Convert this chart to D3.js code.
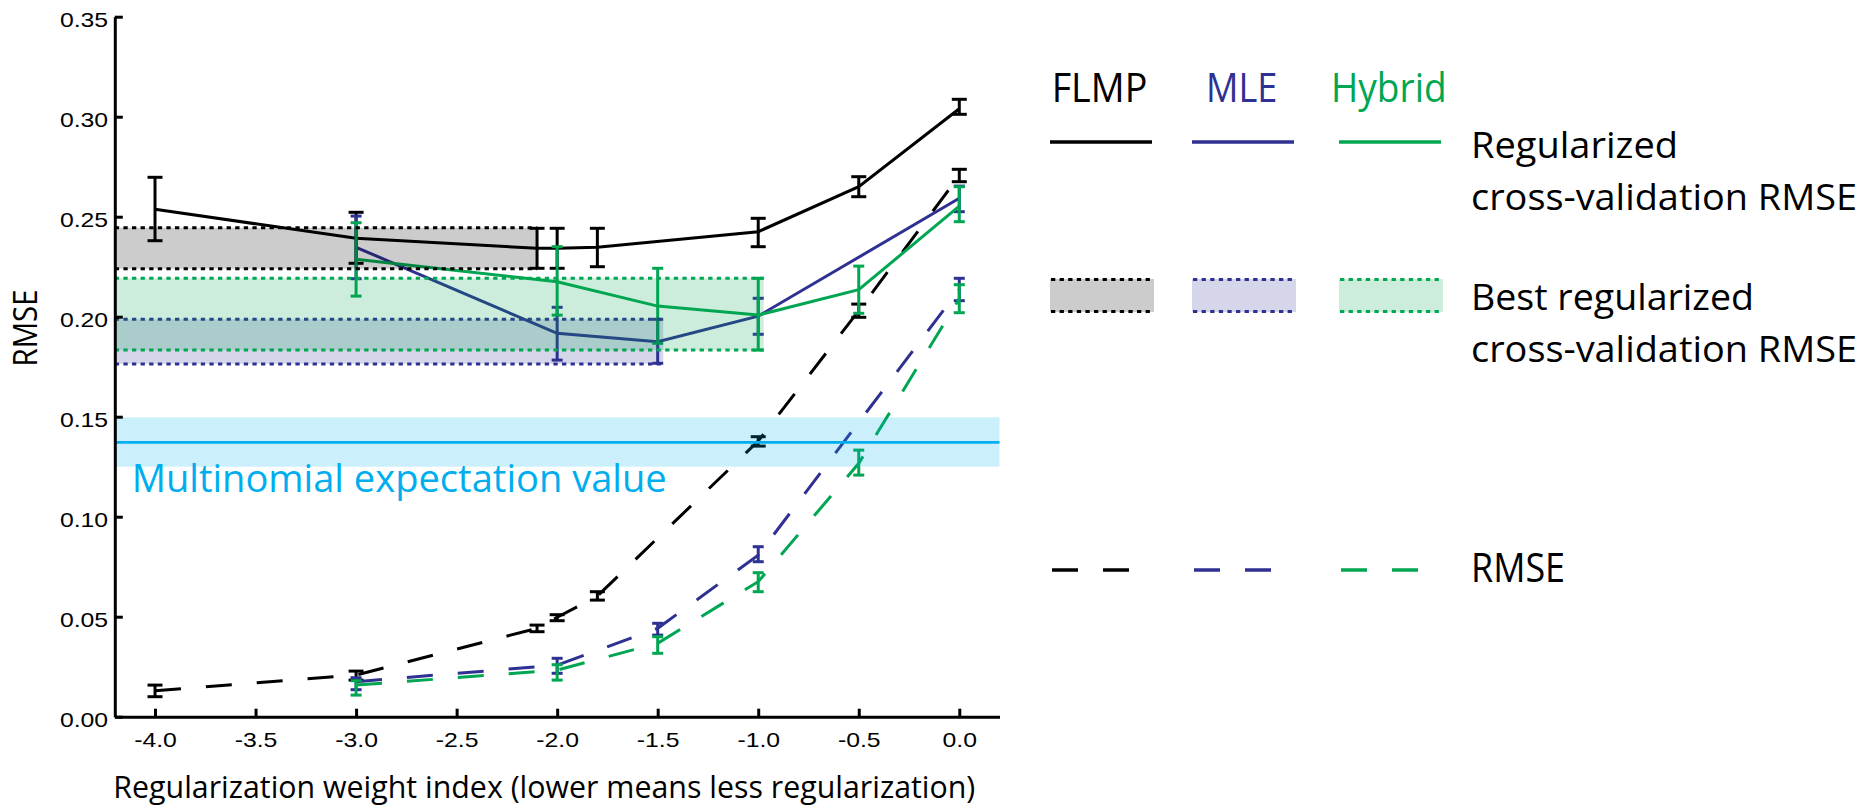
<!DOCTYPE html>
<html>
<head>
<meta charset="utf-8">
<script src="https://cdn.jsdelivr.net/npm/d3@7"></script>
<style>
  body { margin: 0; background: #fff; }
  svg { display: block; }
</style>
</head>
<body>
<div id="chart"></div>
<script>
// x positions (regularization weight index)
let xFlmp = [-4.0, -3.0, -2.1, -2.0, -1.8, -1.0, -0.5, 0.0];
let xMle = [-3.0, -2.0, -1.5, -1.0, 0.0];
let xHybrid = [-3.0, -2.0, -1.5, -1.0, -0.5, 0.0];

// regularized cross-validation RMSE (solid) with error bar ends
let flmpCv = [0.2537, 0.2392, 0.2342, 0.2342, 0.2347, 0.2425, 0.265, 0.304];
let flmpCvLo = [0.238, 0.2267, 0.2242, 0.2242, 0.225, 0.235, 0.26, 0.3012];
let flmpCvHi = [0.2697, 0.2522, 0.2442, 0.2442, 0.2442, 0.2492, 0.27, 0.3087];

let mleCv = [0.2347, 0.1917, 0.1875, 0.2003, 0.2592];
let mleCvLo = [0.219, 0.1783, 0.1767, 0.1912, 0.2525];
let mleCvHi = [0.2503, 0.2047, 0.1987, 0.2092, 0.2653];

let hybridCv = [0.2287, 0.2175, 0.2053, 0.2008, 0.2135, 0.2553];
let hybridCvLo = [0.2103, 0.2008, 0.1867, 0.1833, 0.2017, 0.2475];
let hybridCvHi = [0.247, 0.235, 0.2242, 0.2192, 0.2253, 0.265];

// RMSE (dashed) with error bar ends
let flmpRmse = [0.013, 0.0208, 0.0442, 0.0497, 0.0603, 0.1378, 0.203, 0.2705];
let flmpRmseLo = [0.010, 0.0183, 0.0425, 0.048, 0.0583, 0.1353, 0.1997, 0.2675];
let flmpRmseHi = [0.0158, 0.0228, 0.0458, 0.051, 0.0625, 0.14, 0.2063, 0.2737];

let mleRmse = [0.0175, 0.0258, 0.0442, 0.0808, 0.2136];
let mleRmseLo = [0.0135, 0.0217, 0.0408, 0.0775, 0.208];
let mleRmseHi = [0.0195, 0.0292, 0.0467, 0.085, 0.2192];

let hybridRmse = [0.0158, 0.0233, 0.0367, 0.0675, 0.1267, 0.209];
let hybridRmseLo = [0.0108, 0.0183, 0.0317, 0.0625, 0.1208, 0.202];
let hybridRmseHi = [0.018, 0.026, 0.04, 0.072, 0.1333, 0.216];

// best regularized cross-validation RMSE bands [low, high] and where they stop
let bestFlmp = [0.224, 0.2445];
let bestMle = [0.1764, 0.1987];
let bestHybrid = [0.1833, 0.2192];
let bestX = [-2.1, -1.5, -1.0];

// multinomial expectation value and its band
let multinomial = 0.1372;
let multinomialBand = [0.125, 0.1497];

// ticks
let xTicks = [-4.0, -3.5, -3.0, -2.5, -2.0, -1.5, -1.0, -0.5, 0.0];
let yTicks = [0.00, 0.05, 0.10, 0.15, 0.20, 0.25, 0.30, 0.35];

let modelNames = ["FLMP", "MLE", "Hybrid"];
let colors = ["#000000", "#2e3192", "#00a651"];
let cyan = "#00aeef";

let svgWidth = 1866;
let svgHeight = 807;
let sans = "'Open Sans', 'Noto Sans', sans-serif";

let svg = d3.select("#chart")
  .append("svg")
  .attr("width", svgWidth)
  .attr("height", svgHeight);

// scales
let x = d3.scaleLinear().domain([-4.2, 0.2]).range([114.8, 999.5]);
let y = d3.scaleLinear().domain([0, 0.35]).range([716.7, 16.7]);

// squeeze / stretch a text to a given width
function fit(sel, w) {
  sel.attr("textLength", w).attr("lengthAdjust", "spacingAndGlyphs");
}

// one series: line + error bars
function drawSeries(xs, vals, lo, hi, color, dashed, capHalf) {
  let line = d3.line()
    .x((d, i) => x(xs[i]))
    .y(d => y(d));

  svg.append("path")
    .datum(vals)
    .attr("d", line)
    .attr("fill", "none")
    .attr("stroke", color)
    .attr("stroke-width", 3)
    .attr("stroke-dasharray", dashed ? "26,25" : null);

  let g = svg.append("g")
    .attr("stroke", color)
    .attr("stroke-width", 3);

  g.selectAll(".stem")
    .data(xs)
    .enter().append("line")
    .attr("x1", d => x(d))
    .attr("x2", d => x(d))
    .attr("y1", (d, i) => y(lo[i]))
    .attr("y2", (d, i) => y(hi[i]));

  g.selectAll(".capLo")
    .data(xs)
    .enter().append("line")
    .attr("x1", d => x(d) - capHalf)
    .attr("x2", d => x(d) + capHalf)
    .attr("y1", (d, i) => y(lo[i]))
    .attr("y2", (d, i) => y(lo[i]));

  g.selectAll(".capHi")
    .data(xs)
    .enter().append("line")
    .attr("x1", d => x(d) - capHalf)
    .attr("x2", d => x(d) + capHalf)
    .attr("y1", (d, i) => y(hi[i]))
    .attr("y2", (d, i) => y(hi[i]));
}

// dashed RMSE curves
drawSeries(xFlmp, flmpRmse, flmpRmseLo, flmpRmseHi, colors[0], true, 7.5);
drawSeries(xMle, mleRmse, mleRmseLo, mleRmseHi, colors[1], true, 5.5);
drawSeries(xHybrid, hybridRmse, hybridRmseLo, hybridRmseHi, colors[2], true, 5.5);

// solid cross-validation curves
drawSeries(xFlmp, flmpCv, flmpCvLo, flmpCvHi, colors[0], false, 7.5);
drawSeries(xMle, mleCv, mleCvLo, mleCvHi, colors[1], false, 5.5);
drawSeries(xHybrid, hybridCv, hybridCvLo, hybridCvHi, colors[2], false, 5.5);

// best bands, translucent over the curves
let bands = [bestFlmp, bestMle, bestHybrid];
bands.forEach(function(b, i) {
  let x0 = x.range()[0];
  let x1 = x(bestX[i]) + (i === 0 ? 0 : 5.5);
  svg.append("rect")
    .attr("x", x0)
    .attr("y", y(b[1]))
    .attr("width", x1 - x0)
    .attr("height", y(b[0]) - y(b[1]))
    .attr("fill", colors[i])
    .attr("fill-opacity", 0.2);
  b.forEach(function(v) {
    svg.append("line")
      .attr("x1", x0).attr("x2", x1)
      .attr("y1", y(v)).attr("y2", y(v))
      .attr("stroke", colors[i])
      .attr("stroke-width", 3)
      .attr("stroke-dasharray", "4.3,4.3");
  });
});

// multinomial expectation band + line
svg.append("rect")
  .attr("x", x.range()[0])
  .attr("y", y(multinomialBand[1]))
  .attr("width", x.range()[1] - x.range()[0])
  .attr("height", y(multinomialBand[0]) - y(multinomialBand[1]))
  .attr("fill", cyan)
  .attr("fill-opacity", 0.2);

svg.append("line")
  .attr("x1", x.range()[0]).attr("x2", x.range()[1])
  .attr("y1", y(multinomial)).attr("y2", y(multinomial))
  .attr("stroke", cyan)
  .attr("stroke-width", 2.7);

svg.append("text")
  .attr("x", 131.7)
  .attr("y", 491.7)
  .attr("fill", cyan)
  .style("font-family", sans)
  .style("font-size", "39px")
  .text("Multinomial expectation value")
  .call(fit, 535);

// axes, ticks pointing inward
let bottomAxis = d3.axisBottom(x)
  .tickValues(xTicks)
  .tickFormat(d => d.toFixed(1))
  .tickSize(-8)
  .tickSizeOuter(0)
  .tickPadding(15);

let leftAxis = d3.axisLeft(y)
  .tickValues(yTicks)
  .tickFormat(d => d.toFixed(2))
  .tickSize(-8)
  .tickSizeOuter(0)
  .tickPadding(6.7);

let xAxisG = svg.append("g")
  .attr("transform", `translate(0, ${y.range()[0]})`)
  .call(bottomAxis);

let yAxisG = svg.append("g")
  .attr("transform", `translate(${x.range()[0]}, 0)`)
  .call(leftAxis);

[xAxisG, yAxisG].forEach(function(g) {
  g.select(".domain").attr("stroke", "#000").attr("stroke-width", 3);
  g.selectAll(".tick line").attr("stroke", "#000").attr("stroke-width", 3);
  g.selectAll(".tick text")
    .attr("fill", "#000")
    .style("font-family", "'Liberation Sans', Arial, sans-serif")
    .style("font-size", "21px")
    .each(function() {
      let n = this.getComputedTextLength();
      d3.select(this).call(fit, n * 1.18);
    });
});
yAxisG.selectAll(".tick text").attr("dy", "0.48em");

// axis titles
svg.append("text")
  .attr("x", 113.3)
  .attr("y", 797.7)
  .style("font-family", sans)
  .style("font-size", "31px")
  .text("Regularization weight index (lower means less regularization)")
  .call(fit, 862);

svg.append("text")
  .attr("transform", "translate(36.7, 328) rotate(-90)")
  .attr("text-anchor", "middle")
  .style("font-family", sans)
  .style("font-size", "32px")
  .text("RMSE")
  .call(fit, 77);

// legend
let legendX = [1050, 1192, 1339];
let headerWidths = [95.6, 71.3, 115.7];
let headerX = [1051.7, 1206, 1331];

modelNames.forEach(function(name, i) {
  svg.append("text")
    .attr("x", headerX[i])
    .attr("y", 101.7)
    .attr("fill", colors[i])
    .style("font-family", sans)
    .style("font-size", "40px")
    .text(name)
    .call(fit, headerWidths[i]);

  // solid line
  svg.append("line")
    .attr("x1", legendX[i]).attr("x2", legendX[i] + 102)
    .attr("y1", 142).attr("y2", 142)
    .attr("stroke", colors[i])
    .attr("stroke-width", 3.3);

  // band swatch
  svg.append("rect")
    .attr("x", legendX[i])
    .attr("y", 279)
    .attr("width", 104)
    .attr("height", 33)
    .attr("fill", colors[i])
    .attr("fill-opacity", 0.2);
  [279.5, 311.5].forEach(function(yy) {
    svg.append("line")
      .attr("x1", legendX[i] + 1).attr("x2", legendX[i] + 103)
      .attr("y1", yy).attr("y2", yy)
      .attr("stroke", colors[i])
      .attr("stroke-width", 3)
      .attr("stroke-dasharray", "4.3,4.3");
  });

  // dashed line
  svg.append("line")
    .attr("x1", legendX[i] + 2).attr("x2", legendX[i] + 79)
    .attr("y1", 570).attr("y2", 570)
    .attr("stroke", colors[i])
    .attr("stroke-width", 3.3)
    .attr("stroke-dasharray", "26,25");
});

let legendText = [
  ["Regularized", 158.3, 207],
  ["cross-validation RMSE", 210, 386],
  ["Best regularized", 310, 283],
  ["cross-validation RMSE", 361.7, 386],
  ["RMSE", 582.3, 94]
];

legendText.forEach(function(t) {
  svg.append("text")
    .attr("x", 1471)
    .attr("y", t[1])
    .style("font-family", sans)
    .style("font-size", t[0] === "RMSE" ? "40px" : "37px")
    .text(t[0])
    .call(fit, t[2]);
});
</script>
</body>
</html>
